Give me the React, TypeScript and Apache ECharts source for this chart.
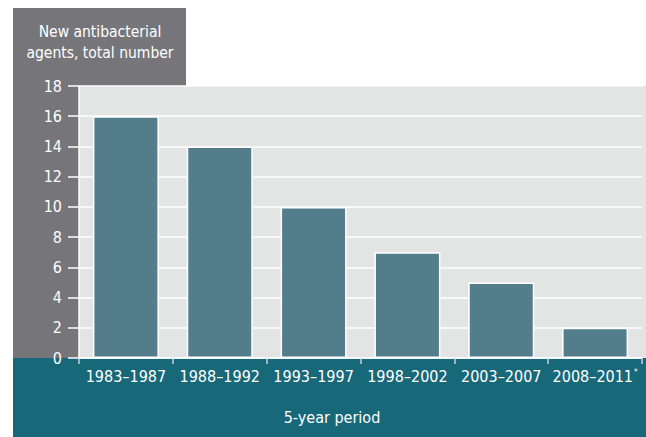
import React, { useEffect, useRef } from "react";
import * as echarts from "echarts";

const periods = ["1983–1987", "1988–1992", "1993–1997", "1998–2002", "2003–2007", "2008–2011"];
const agents = [16, 14, 10, 7, 5, 2];
const yTicks = { min: 0, max: 18, interval: 2 };
const yTitle = ["New antibacterial", "agents, total number"];
const xTitle = "5-year period";

const FONT = "'DejaVu Sans Condensed', 'DejaVu Sans', sans-serif";
const GREY = "#76767a";
const TEAL = "#176878";
const PLOT_BG = "#e3e4e4";
const BAR = "#547d8c";

export default function App() {
  const ref = useRef<HTMLDivElement>(null);

  useEffect(() => {
    document.body.style.margin = "0";
    const chart = echarts.init(ref.current!, null, { renderer: "svg" });
    const W = 646;
    const H = 437;
    const left = 79;
    const top = 86;
    const bottom = 358;

    chart.setOption({
      animation: false,
      backgroundColor: "#ffffff",
      textStyle: { fontFamily: FONT },
      graphic: [
        { type: "rect", z: -5, silent: true, shape: { x: 13, y: 8, width: 173, height: top - 8 }, style: { fill: GREY } },
        { type: "rect", z: -5, silent: true, shape: { x: 13, y: top, width: left - 13, height: bottom - top }, style: { fill: GREY } },
        { type: "rect", z: -5, silent: true, shape: { x: left, y: top, width: W - left, height: bottom - top }, style: { fill: PLOT_BG } },
        { type: "rect", z: -5, silent: true, shape: { x: 13, y: bottom, width: W - 13, height: H - bottom }, style: { fill: TEAL } },
        {
          type: "text",
          silent: true,
          x: 100,
          y: 21,
          style: {
            text: yTitle.join("\n"),
            fill: "#ffffff",
            font: `15.5px ${FONT}`,
            textAlign: "center",
            textVerticalAlign: "top",
            lineHeight: 21,
          },
        },
        {
          type: "text",
          silent: true,
          x: 332,
          y: 417,
          style: {
            text: xTitle,
            fill: "#ffffff",
            font: `16px ${FONT}`,
            textAlign: "center",
            textVerticalAlign: "middle",
          },
        },
      ],
      grid: { left, right: 4, top, bottom: H - bottom, containLabel: false },
      xAxis: {
        type: "category",
        data: periods,
        axisLine: { show: true, lineStyle: { color: "#ffffff", width: 1.5 } },
        axisTick: { show: true, length: 6, lineStyle: { color: "#c9d3d7", width: 1.5 } },
        axisLabel: {
          interval: 0,
          color: "#ffffff",
          fontSize: 16,
          fontFamily: FONT,
          margin: 10,
          formatter: (v: string, i: number) => (i === periods.length - 1 ? `${v}{s|*}` : v),
          rich: { s: { fontSize: 8, color: "#ffffff", verticalAlign: "top", padding: [0, 0, 8, 1] } },
        },
        splitLine: { show: false },
      },
      yAxis: {
        type: "value",
        min: yTicks.min,
        max: yTicks.max,
        interval: yTicks.interval,
        axisLine: { show: true, lineStyle: { color: "#ffffff", width: 1.5 } },
        axisTick: { show: true, length: 11, lineStyle: { color: "#ffffff", width: 1.5 } },
        axisLabel: { color: "#ffffff", fontSize: 16, fontFamily: FONT, margin: 17 },
        splitLine: { show: true, lineStyle: { color: "#ffffff", width: 1.5 } },
      },
      series: [
        {
          type: "bar",
          data: agents,
          barWidth: 66,
          itemStyle: { color: BAR, borderColor: "#ffffff", borderWidth: 1.5 },
          z: 3,
        },
      ],
    });

    return () => chart.dispose();
  }, []);

  return <div ref={ref} style={{ width: 646, height: 437 }} />;
}
